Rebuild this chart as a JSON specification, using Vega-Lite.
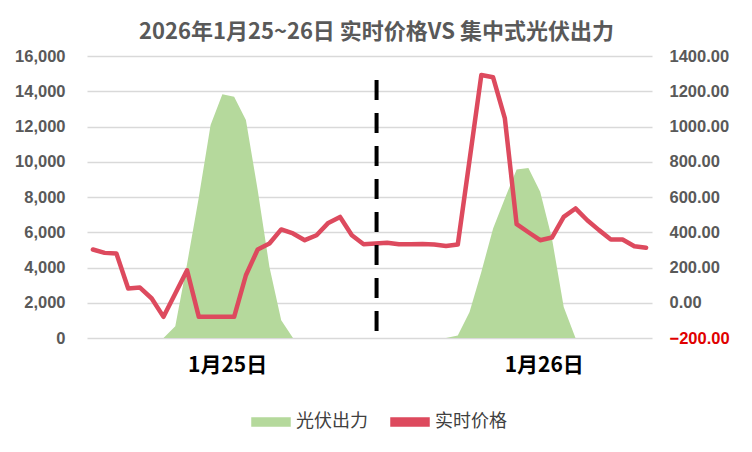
{
  "$schema": "https://vega.github.io/schema/vega-lite/v6.json",
  "width": 565,
  "height": 282,
  "autosize": {"type": "none"},
  "padding": {"left": 87, "top": 56, "right": 100, "bottom": 114},
  "background": "white",
  "title": {"text": "2026年1月25~26日 实时价格VS 集中式光伏出力", "font": "Noto Sans CJK SC", "fontSize": 22, "fontWeight": "bold", "color": "#595959", "anchor": "middle", "frame": "group", "offset": 4, "dx": 7},
  "config": {"view": {"stroke": null}},
  "datasets": {
    "main": [
      {"i": 0, "pv": 0, "price": 302},
      {"i": 1, "pv": 0, "price": 283},
      {"i": 2, "pv": 0, "price": 279},
      {"i": 3, "pv": 0, "price": 81},
      {"i": 4, "pv": 0, "price": 86},
      {"i": 5, "pv": 0, "price": 24},
      {"i": 6, "pv": 0, "price": -80},
      {"i": 7, "pv": 665, "price": 52},
      {"i": 8, "pv": 4200, "price": 184},
      {"i": 9, "pv": 7990, "price": -80},
      {"i": 10, "pv": 12080, "price": -80},
      {"i": 11, "pv": 13825, "price": -80},
      {"i": 12, "pv": 13690, "price": -80},
      {"i": 13, "pv": 12365, "price": 156},
      {"i": 14, "pv": 8400, "price": 302},
      {"i": 15, "pv": 4030, "price": 336},
      {"i": 16, "pv": 1005, "price": 416},
      {"i": 17, "pv": 0, "price": 393},
      {"i": 18, "pv": 0, "price": 355},
      {"i": 19, "pv": 0, "price": 383},
      {"i": 20, "pv": 0, "price": 453},
      {"i": 21, "pv": 0, "price": 487},
      {"i": 22, "pv": 0, "price": 383},
      {"i": 23, "pv": 0, "price": 332},
      {"i": 24, "pv": 0, "price": 336},
      {"i": 25, "pv": 0, "price": 340},
      {"i": 26, "pv": 0, "price": 332},
      {"i": 27, "pv": 0, "price": 332},
      {"i": 28, "pv": 0, "price": 333},
      {"i": 29, "pv": 0, "price": 330},
      {"i": 30, "pv": 0, "price": 322},
      {"i": 31, "pv": 136, "price": 330},
      {"i": 32, "pv": 1475, "price": 809},
      {"i": 33, "pv": 3750, "price": 1292},
      {"i": 34, "pv": 6210, "price": 1279},
      {"i": 35, "pv": 7915, "price": 1046},
      {"i": 36, "pv": 9565, "price": 446},
      {"i": 37, "pv": 9650, "price": 400},
      {"i": 38, "pv": 8300, "price": 355},
      {"i": 39, "pv": 5645, "price": 370},
      {"i": 40, "pv": 1760, "price": 487},
      {"i": 41, "pv": 0, "price": 535},
      {"i": 42, "pv": 0, "price": 468},
      {"i": 43, "pv": 0, "price": 412},
      {"i": 44, "pv": 0, "price": 359},
      {"i": 45, "pv": 0, "price": 359},
      {"i": 46, "pv": 0, "price": 321},
      {"i": 47, "pv": 0, "price": 312}
    ]
  },
  "encoding": {
    "x": {
      "field": "i", "type": "quantitative",
      "scale": {"domain": [-0.5, 47.5], "nice": false, "zero": false},
      "axis": {"orient": "bottom", "title": null, "values": [11.4, 38.3], "labelExpr": "datum.value < 20 ? '1月25日' : '1月26日'", "domain": false, "ticks": false, "grid": false, "labelPadding": 16, "labelFont": "Noto Sans CJK SC", "labelFontSize": 21, "labelFontWeight": "bold", "labelColor": "#000000", "labelFlush": false, "labelOverlap": false}
    }
  },
  "layer": [
    {
      "data": {"name": "main"},
      "mark": {"type": "area", "opacity": 1},
      "encoding": {
        "y": {
          "field": "pv", "type": "quantitative",
          "scale": {"domain": [0, 16000], "nice": false},
          "axis": {"orient": "left", "title": null, "values": [0, 2000, 4000, 6000, 8000, 10000, 12000, 14000, 16000], "format": ",d", "grid": true, "gridColor": "#D9D9D9", "gridWidth": 1.5, "domain": false, "ticks": false, "labelPadding": 22, "labelFont": "Liberation Sans", "labelFontSize": 16.5, "labelFontWeight": "bold", "labelColor": "#595959"}
        },
        "color": {
          "datum": "光伏出力", "type": "nominal",
          "scale": {"domain": ["光伏出力", "实时价格"], "range": ["#B5D99C", "#DD4A5E"]},
          "legend": {
            "orient": "none", "legendX": 163, "legendY": 345, "direction": "horizontal", "title": null,
            "symbolType": "M-0.95,-0.2H0.95V0.2H-0.95Z",
            "symbolSize": 1600, "labelFont": "Noto Sans CJK SC", "labelFontSize": 18, "labelColor": "#404040", "labelOffset": 4, "columnPadding": 20,
            "encode": {"symbols": {"update": {
              "shape": {"signal": "datum.label === '光伏出力' ? 'M-0.95,-0.2H0.95V0.2H-0.95Z' : 'M-1.075,-0.1H1.075V0.1H-1.075Z'"},
              "fill": {"scale": "color", "field": "value"},
              "stroke": {"value": "transparent"},
              "strokeWidth": {"value": 0},
              "opacity": {"value": 1}
            }}}
          }
        }
      }
    },
    {
      "data": {"name": "main"},
      "mark": {"type": "line", "strokeWidth": 4.5, "strokeJoin": "round", "strokeCap": "round"},
      "encoding": {
        "y": {
          "field": "price", "type": "quantitative",
          "scale": {"domain": [-200, 1400], "nice": false, "zero": false},
          "axis": {"orient": "right", "title": null, "values": [-200, 0, 200, 400, 600, 800, 1000, 1200, 1400], "format": ".2f", "grid": false, "domain": false, "ticks": false, "labelPadding": 17, "labelFont": "Liberation Sans", "labelFontSize": 16.5, "labelFontWeight": "bold", "labelColor": {"condition": {"test": "datum.value < 0", "value": "#E00000"}, "value": "#595959"}}
        },
        "color": {"datum": "实时价格", "type": "nominal"}
      }
    },
    {
      "data": {"values": [{"i": 24.1, "top": 14640, "bot": -300}]},
      "mark": {"type": "rule", "color": "#000000", "strokeWidth": 4, "strokeDash": [20, 13]},
      "encoding": {
        "y": {"field": "top", "type": "quantitative", "scale": {"domain": [0, 16000], "nice": false}, "axis": null},
        "y2": {"field": "bot"}
      }
    }
  ],
  "resolve": {"scale": {"y": "independent"}, "axis": {"y": "independent"}}
}
